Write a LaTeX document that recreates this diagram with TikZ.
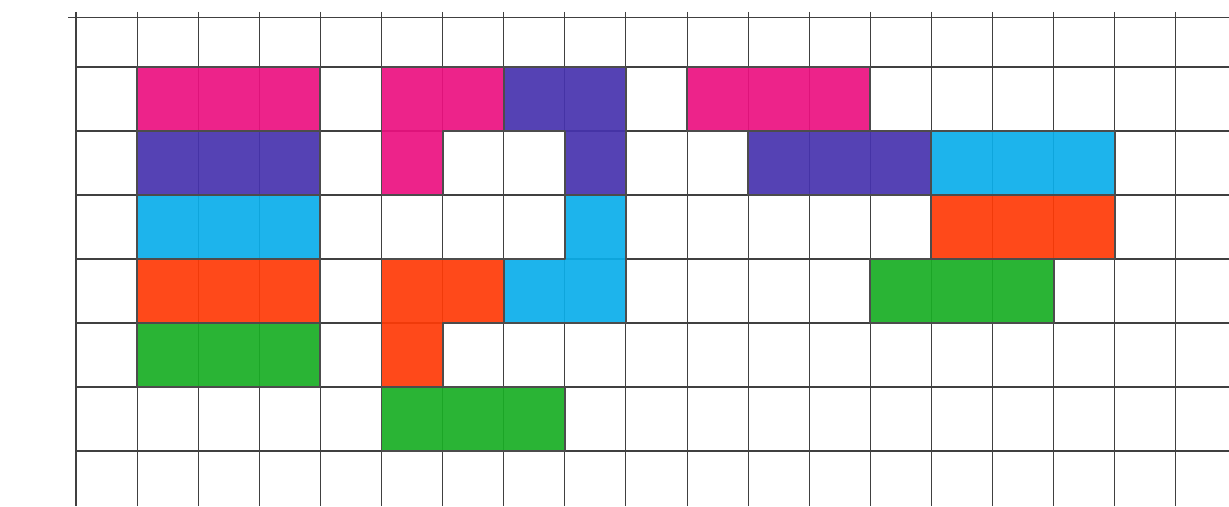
\documentclass[tikz,border=0pt]{standalone}
\usepackage{xcolor}
\usepackage{tikz}
\definecolor{tilepink}{HTML}{EC1080}
\definecolor{tilepurple}{HTML}{4632AE}
\definecolor{tilecyan}{HTML}{0AAEEA}
\definecolor{tilered}{HTML}{FF3A06}
\definecolor{tilegreen}{HTML}{18AE24}

\begin{document}
\begin{tikzpicture}[
    x=1.222cm, y=-1.28cm,
    gridline/.style={draw=black!75, line width=0.6pt},
    piece/.style={draw=black!70, line width=1.1pt, line join=round, fill opacity=0.92}
]
    \useasboundingbox (-1.244,-1.047) rectangle (18.87,6.86);

    % Grid
    \foreach \c in {0,...,18}
        \draw[gridline] (\c,-0.86) -- (\c,6.86);
    \foreach \r in {0,...,6}
        \draw[gridline] (0,\r) -- (18.87,\r);
    \draw[gridline] (-0.13,-0.78) -- (18.87,-0.78);

    % Left stack of straight pieces
    \foreach \r/\col in {0/tilepink, 1/tilepurple, 2/tilecyan, 3/tilered, 4/tilegreen}
        \filldraw[piece, fill=\col] (1,\r) rectangle (4,\r+1);

    % Middle ring of bent pieces
    \filldraw[piece, fill=tilepink] (5,0) -- (7,0) -- (7,1) -- (6,1) -- (6,2) -- (5,2) -- cycle;
    \filldraw[piece, fill=tilepurple] (7,0) -- (9,0) -- (9,2) -- (8,2) -- (8,1) -- (7,1) -- cycle;
    \filldraw[piece, fill=tilecyan] (8,2) -- (9,2) -- (9,4) -- (7,4) -- (7,3) -- (8,3) -- cycle;
    \filldraw[piece, fill=tilered] (5,3) -- (7,3) -- (7,4) -- (6,4) -- (6,5) -- (5,5) -- cycle;
    \filldraw[piece, fill=tilegreen] (5,5) rectangle (8,6);

    % Right staircase of straight pieces
    \filldraw[piece, fill=tilepink] (10,0) rectangle (13,1);
    \filldraw[piece, fill=tilepurple] (11,1) rectangle (14,2);
    \filldraw[piece, fill=tilecyan] (14,1) rectangle (17,2);
    \filldraw[piece, fill=tilered] (14,2) rectangle (17,3);
    \filldraw[piece, fill=tilegreen] (13,3) rectangle (16,4);
\end{tikzpicture}
\end{document}
